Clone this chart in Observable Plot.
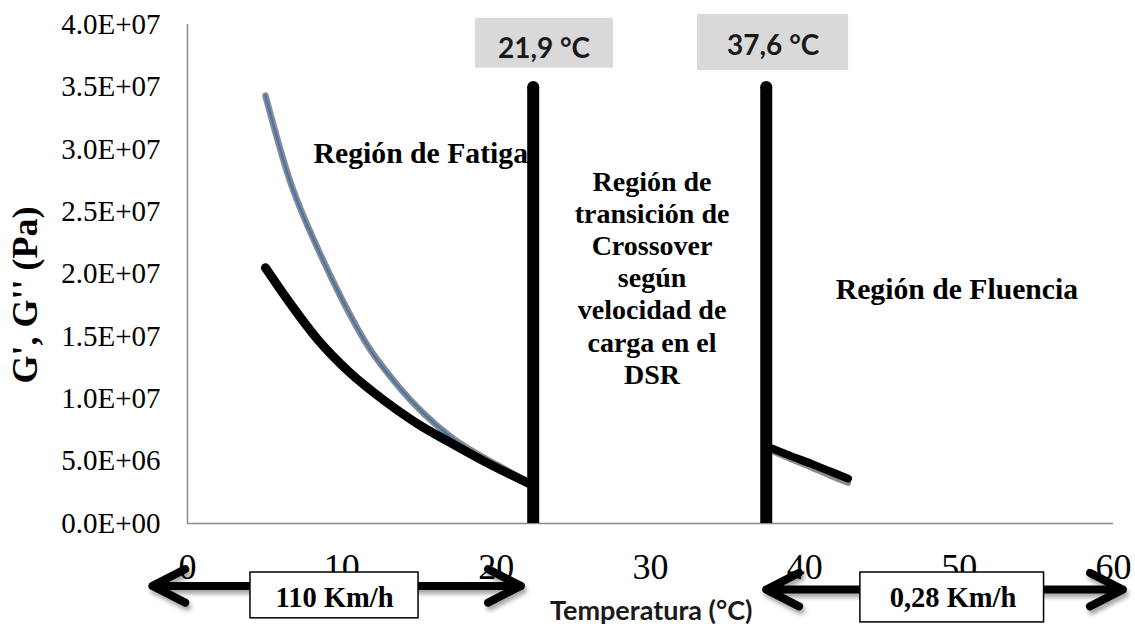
<!DOCTYPE html>
<html>
<head>
<meta charset="utf-8">
<script src="https://cdn.jsdelivr.net/npm/d3@7"></script>
<script src="https://cdn.jsdelivr.net/npm/@observablehq/plot@0.6"></script>
<style>
  body { margin: 0; background: #fff; }
  #chart svg { display: block; }
</style>
</head>
<body>
<div id="chart"></div>
<script>
// ---- Data ----
// G' (grey-blue series), fatigue region
const gPrimeLeftT = [5.05, 6.55, 8.6, 10.0, 11.7, 13.8, 17.0, 20.5, 22.3];
const gPrimeLeftV = [34.3e6, 27.8e6, 21.6e6, 18.0e6, 14.2e6, 10.8e6, 7.0e6, 4.4e6, 3.2e6];
// G'' (black series), fatigue region
const gDoubleLeftT = [5.05, 6.5, 8.4, 10.6, 12.7, 14.9, 17.0, 19.2, 22.3];
const gDoubleLeftV = [20.5e6, 17.9e6, 14.8e6, 12.0e6, 9.9e6, 8.0e6, 6.5e6, 5.0e6, 3.1e6];
// Flow region
const gPrimeRightT = [37.9, 39.1, 40.4, 41.6, 42.8];
const gPrimeRightV = [5.8e6, 5.15e6, 4.5e6, 3.85e6, 3.25e6];
const gDoubleRightT = [37.9, 39.1, 40.4, 41.6, 42.8];
const gDoubleRightV = [6.0e6, 5.4e6, 4.8e6, 4.2e6, 3.6e6];

// Crossover boundaries
const crossoverT = [22.4, 37.5];
const crossoverTop = 35.0e6;
const crossoverLabels = ["21,9 °C", "37,6 °C"];

// Axis ticks
const xTicks = [0, 10, 20, 30, 40, 50, 60];
const xTickLabels = ["0", "10", "20", "30", "40", "50", "60"];
const yTicks = [0, 5e6, 10e6, 15e6, 20e6, 25e6, 30e6, 35e6, 40e6];
const yTickLabels = ["0.0E+00", "5.0E+06", "1.0E+07", "1.5E+07", "2.0E+07", "2.5E+07", "3.0E+07", "3.5E+07", "4.0E+07"];

// Annotations (in data units: °C, Pa)
const tempBoxes = [
  {label: crossoverLabels[0], x1: 18.66, x2: 27.6, y1: 36.5e6, y2: 40.5e6, tx: 23.1, ty: 37.3e6},
  {label: crossoverLabels[1], x1: 33.05, x2: 42.84, y1: 36.3e6, y2: 40.8e6, tx: 37.95, ty: 37.55e6}
];
const sideRegionLabels = [
  {label: "Región de Fatiga", x: 8.17, y: 28.9e6},
  {label: "Región de Fluencia", x: 42.0, y: 18.0e6}
];
const middleRegionLabel = [
  {label: "Región de\ntransición de\nCrossover\nsegún\nvelocidad de\ncarga en el\nDSR", x: 30.1, y: 11.2e6}
];
const speedArrows = [
  {x1: 9.67, x2: -2.27, y: -5.0e6},
  {x1: 9.67, x2: 21.6, y: -5.0e6},
  {x1: 49.05, x2: 37.5, y: -5.3e6},
  {x1: 49.05, x2: 60.6, y: -5.3e6}
];
const speedBoxes = [
  {label: "110 Km/h", x1: 4.08, x2: 14.97, y1: -3.93e6, y2: -7.6e6, tx: 9.53, ty: -6.73e6},
  {label: "0,28 Km/h", x1: 43.6, x2: 55.5, y1: -3.93e6, y2: -7.93e6, tx: 49.6, ty: -6.73e6}
];
const xTitle = "Temperatura (°C)";
const yTitle = "G', G'' (Pa)";

// ---- Build tables ----
const toRows = (T, V) => T.map((t, i) => ({t, v: V[i]}));
const gPrimeLeft = toRows(gPrimeLeftT, gPrimeLeftV);
const gPrimeRight = toRows(gPrimeRightT, gPrimeRightV);
const gDoubleLeft = toRows(gDoubleLeftT, gDoubleLeftV);
const gDoubleRight = toRows(gDoubleRightT, gDoubleRightV);

const serif = "Liberation Serif";
const sans = "Lato";

const chart = Plot.plot({
  width: 1135,
  height: 627,
  marginLeft: 187,
  marginRight: 22,
  marginTop: 24,
  marginBottom: 104,
  style: {background: "white", color: "black", fontFamily: serif},
  x: {domain: [0, 60]},
  y: {domain: [0, 40e6]},
  marks: [
    // axis lines
    Plot.ruleX([0], {y1: 0, y2: 40e6, stroke: "#8a8a8a", strokeWidth: 1.5}),
    Plot.ruleY([0], {x1: 0, x2: 60, stroke: "#8a8a8a", strokeWidth: 1.5}),
    Plot.axisY({ticks: yTicks, tickFormat: d => yTickLabels[yTicks.indexOf(d)], tickSize: 0, tickPadding: 27,
      fontSize: 29, fontFamily: serif, label: null}),
    Plot.axisX({ticks: xTicks, tickFormat: d => xTickLabels[xTicks.indexOf(d)], tickSize: 0, tickPadding: 30,
      fontSize: 36, fontFamily: serif, label: null}),
    // G' series (grey line with bluish markers look)
    Plot.line(gPrimeLeft, {x: "t", y: "v", curve: "monotone-x", stroke: "#868c94", strokeWidth: 6.5}),
    Plot.line(gPrimeLeft, {x: "t", y: "v", curve: "monotone-x", stroke: "#4e73a6", strokeWidth: 2.5, strokeDasharray: "2.5,2"}),
    Plot.line(gPrimeRight, {x: "t", y: "v", curve: "monotone-x", stroke: "#868c94", strokeWidth: 6}),
    // G'' series
    Plot.line(gDoubleLeft, {x: "t", y: "v", curve: "monotone-x", stroke: "#000", strokeWidth: 9}),
    Plot.line(gDoubleRight, {x: "t", y: "v", curve: "monotone-x", stroke: "#000", strokeWidth: 8}),
    // crossover boundaries
    Plot.ruleX(crossoverT, {y1: 0, y2: crossoverTop, stroke: "#000", strokeWidth: 12}),
    Plot.dot(crossoverT, {x: d => d, y: crossoverTop, r: 6, fill: "#000", stroke: null}),
    // temperature boxes
    Plot.rect(tempBoxes, {x1: "x1", x2: "x2", y1: "y1", y2: "y2", fill: "#d9d9d9"}),
    Plot.text(tempBoxes, {x: "tx", y: "ty", text: "label", fontFamily: sans, fontWeight: "bold", fontSize: 28,
      fill: "#1a1a1a", lineAnchor: "bottom", textAnchor: "middle"}),
    // region labels
    Plot.text(sideRegionLabels, {x: "x", y: "y", text: "label", textAnchor: "start", lineAnchor: "bottom",
      fontFamily: serif, fontWeight: "bold", fontSize: 29.7, fill: "#000"}),
    Plot.text(middleRegionLabel, {x: "x", y: "y", text: "label", textAnchor: "middle", lineAnchor: "bottom",
      fontFamily: serif, fontWeight: "bold", fontSize: 28, lineHeight: 1.15, fill: "#000"}),
    // speed arrows
    Plot.arrow(speedArrows, {x1: "x1", x2: "x2", y1: "y", y2: "y", stroke: "#000", strokeWidth: 8,
      headLength: 6.9, headAngle: 54, strokeLinecap: "round", strokeLinejoin: "round"}),
    Plot.rect(speedBoxes, {x1: "x1", x2: "x2", y1: "y1", y2: "y2", fill: "#fff", stroke: "#000", strokeWidth: 1.5}),
    Plot.text(speedBoxes, {x: "tx", y: "ty", text: "label", fontFamily: serif, fontWeight: "bold", fontSize: 28.5,
      lineAnchor: "bottom", textAnchor: "middle", fill: "#000"}),
    // axis titles
    Plot.text([xTitle], {x: 30.05, y: -7.77e6, text: d => d, fontFamily: sans, fontWeight: "bold", fontSize: 27,
      lineAnchor: "bottom", textAnchor: "middle", fill: "#1a1a1a"}),
    Plot.text([yTitle], {frameAnchor: "left", dx: -162, dy: 21, rotate: -90, text: d => d, textAnchor: "middle",
      lineAnchor: "middle", fontFamily: serif, fontWeight: "bold", fontSize: 36, fill: "#000"})
  ]
});

// soft drop shadow under the arrows
const ns = "http://www.w3.org/2000/svg";
const defs = document.createElementNS(ns, "defs");
defs.innerHTML = '<filter id="arrowShadow" x="-10%" y="-60%" width="120%" height="220%">' +
  '<feDropShadow dx="2" dy="4" stdDeviation="2.2" flood-color="#000" flood-opacity="0.35"/></filter>';
chart.insertBefore(defs, chart.firstChild);
chart.querySelectorAll('g[aria-label="arrow"]').forEach(g => g.setAttribute("filter", "url(#arrowShadow)"));

document.getElementById("chart").appendChild(chart);
</script>
</body>
</html>
